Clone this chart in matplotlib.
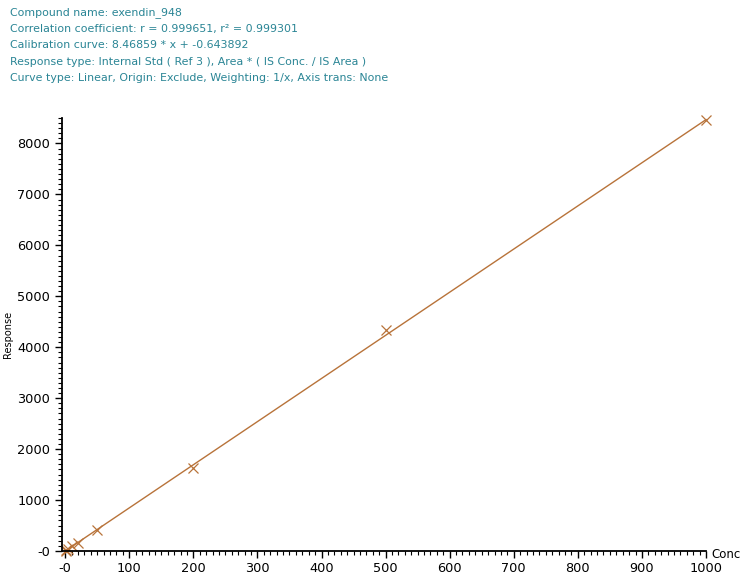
import matplotlib
matplotlib.use("Agg")
import matplotlib.pyplot as plt
import numpy as np
from matplotlib.ticker import MultipleLocator, FuncFormatter

conc = [1, 2, 5, 10, 20, 50, 200, 500, 1000]
response = [8, 17, 42, 95, 165, 420, 1625, 4335, 8470]
slope = 8.46859
intercept = -0.643892
header = [
    "Compound name: exendin_948",
    "Correlation coefficient: r = 0.999651, r\u00b2 = 0.999301",
    "Calibration curve: 8.46859 * x + -0.643892",
    "Response type: Internal Std ( Ref 3 ), Area * ( IS Conc. / IS Area )",
    "Curve type: Linear, Origin: Exclude, Weighting: 1/x, Axis trans: None",
]

plt.rcParams['font.family'] = ['DejaVu Sans']
fig = plt.figure(figsize=(7.41, 5.80), dpi=100)
W, H = 741, 580
ax = fig.add_axes([62 / W, (H - 551) / H, (706 - 62) / W, (551 - 118) / H])

col = "#b8733a"
xs = np.array([0, 1000])
ax.plot(xs, slope * xs + intercept, color=col, lw=1.0, clip_on=False)
ax.plot(conc, response, ls='none', marker='x', color=col, ms=7, mew=0.9, clip_on=False)

ax.set_xlim(-5, 1000)
ax.set_ylim(0, 8500)
for s in ['top', 'right']:
    ax.spines[s].set_visible(False)
ax.spines['left'].set_linewidth(1.3)
ax.spines['bottom'].set_linewidth(1.3)

ax.xaxis.set_major_locator(MultipleLocator(100))
ax.xaxis.set_minor_locator(MultipleLocator(10))
ax.yaxis.set_major_locator(MultipleLocator(1000))
ax.yaxis.set_minor_locator(MultipleLocator(100))
fmt = FuncFormatter(lambda v, p: "-0" if v == 0 else f"{int(v)}")
ax.xaxis.set_major_formatter(fmt)
ax.yaxis.set_major_formatter(fmt)
ax.tick_params(axis='both', which='major', direction='out', length=5, width=1.0, labelsize=9.3, color='black')
ax.tick_params(axis='both', which='minor', direction='out', length=3, width=0.8)
ax.tick_params(axis='x', which='major', pad=3)

fig.text(8 / W, 1 - 334 / H, "Response", fontsize=7, rotation=90, va='center', ha='center')
fig.text(711 / W, 1 - 555 / H, "Conc", fontsize=8.5, va='center', ha='left')

tcol = "#2a8595"
for i, line in enumerate(header):
    fig.text(10 / W, 1 - (13 + 16.2 * i) / H, line, fontsize=7.9, color=tcol, va='center', ha='left')

fig.savefig("out.png", dpi=100)
